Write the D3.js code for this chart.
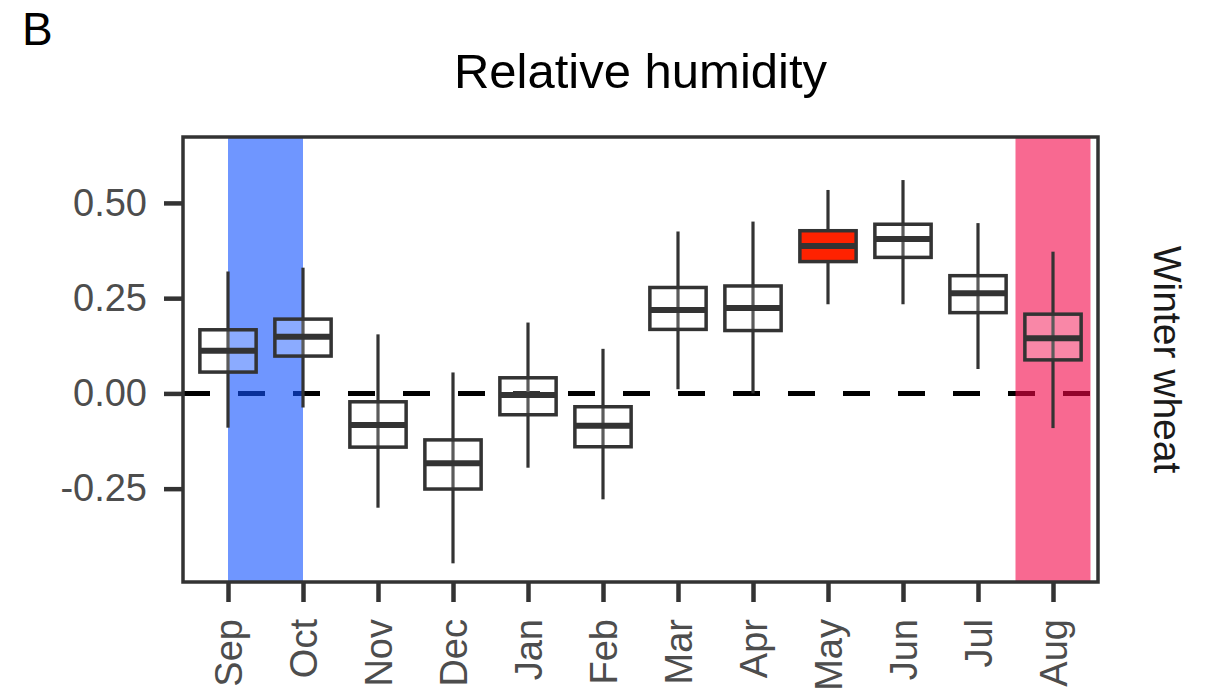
<!DOCTYPE html>
<meta charset="utf-8">
<style>
  body { margin: 0; background: #fff; }
  text { font-family: "Liberation Sans", Arial, sans-serif; }
</style>
<svg width="1205" height="694"></svg>
<script src="https://cdnjs.cloudflare.com/ajax/libs/d3/7.8.5/d3.min.js"></script>
<script>

// month order (Sep .. Aug)
var months = ["Sep", "Oct", "Nov", "Dec", "Jan", "Feb", "Mar", "Apr", "May", "Jun", "Jul", "Aug"];

// box stats
var whiskLow = [-0.090, -0.037, -0.300, -0.446, -0.195, -0.278, 0.011, 0.000, 0.234, 0.234, 0.064, -0.091];
var q1       = [ 0.056,  0.098, -0.141, -0.251, -0.056, -0.140, 0.168, 0.165, 0.346, 0.357, 0.212,  0.088];
var median   = [ 0.112,  0.149, -0.083, -0.183, -0.004, -0.085, 0.219, 0.224, 0.387, 0.405, 0.263,  0.145];
var q3       = [ 0.167,  0.195, -0.022, -0.122,  0.041, -0.035, 0.278, 0.282, 0.427, 0.444, 0.309,  0.208];
var whiskHigh= [ 0.320,  0.330,  0.155,  0.055,  0.186,  0.117, 0.425, 0.451, 0.534, 0.560, 0.447,  0.372];

var highlight = ["May"];        // red box
var yTicks = [-0.25, 0, 0.25, 0.5];
var yTickLabels = ["-0.25", "0.00", "0.25", "0.50"];

// shaded windows, in month index units
var bands = [
  { from: 0,    to: 1,    color: "rgb(15,80,255)" },
  { from: 10.5, to: 11.5, color: "rgb(243,5,72)" }
];

var svg = d3.select("svg");

var pLeft = 183, pRight = 1098, pTop = 137, pBottom = 582;

var x = d3.scalePoint().domain(months).range([pLeft, pRight]).padding(0.6);
var step = x.step();
var xi = d3.scaleLinear().domain([0, 11]).range([x("Sep"), x("Aug")]);

var y = d3.scaleLinear().domain([-0.495, 0.673]).range([pBottom, pTop]);

var data = months.map(function (m, i) {
  return { month: m, lo: whiskLow[i], q1: q1[i], med: median[i], q3: q3[i], hi: whiskHigh[i] };
});

// label + title
svg.append("text").attr("x", 22).attr("y", 45)
  .attr("font-size", 46).attr("fill", "#000").text("B");

svg.append("text").attr("x", (pLeft + pRight) / 2).attr("y", 88)
  .attr("text-anchor", "middle").attr("font-size", 49).attr("fill", "#000")
  .text("Relative humidity");

// zero line
svg.append("line")
  .attr("x1", pLeft).attr("x2", pRight)
  .attr("y1", y(0)).attr("y2", y(0))
  .attr("stroke", "#000").attr("stroke-width", 5)
  .attr("stroke-dasharray", "27,28");

// shaded bands
svg.selectAll(".band").data(bands).enter().append("rect")
  .attr("x", function (d) { return xi(d.from); })
  .attr("width", function (d) { return xi(d.to) - xi(d.from); })
  .attr("y", pTop).attr("height", pBottom - pTop)
  .attr("fill", function (d) { return d.color; })
  .attr("fill-opacity", 0.6);

// boxplots
var bw = step * 0.75;
var g = svg.selectAll(".box").data(data).enter().append("g");

g.append("line")
  .attr("x1", function (d) { return x(d.month); })
  .attr("x2", function (d) { return x(d.month); })
  .attr("y1", function (d) { return y(d.hi); })
  .attr("y2", function (d) { return y(d.lo); })
  .attr("stroke", "#333").attr("stroke-width", 3.2);

g.append("rect")
  .attr("x", function (d) { return x(d.month) - bw / 2; })
  .attr("width", bw)
  .attr("y", function (d) { return y(d.q3); })
  .attr("height", function (d) { return y(d.q1) - y(d.q3); })
  .attr("fill", function (d) { return highlight.indexOf(d.month) >= 0 ? "#ff2200" : "#fff"; })
  .attr("fill-opacity", function (d) { return highlight.indexOf(d.month) >= 0 ? 1 : 0.2; })
  .attr("stroke", "#333").attr("stroke-width", 3.5);

g.append("line")
  .attr("x1", function (d) { return x(d.month) - bw / 2; })
  .attr("x2", function (d) { return x(d.month) + bw / 2; })
  .attr("y1", function (d) { return y(d.med); })
  .attr("y2", function (d) { return y(d.med); })
  .attr("stroke", "#333").attr("stroke-width", 6);

// panel border
svg.append("rect")
  .attr("x", pLeft).attr("y", pTop)
  .attr("width", pRight - pLeft).attr("height", pBottom - pTop)
  .attr("fill", "none").attr("stroke", "#333").attr("stroke-width", 3.5);

// axes
var yAxis = svg.append("g").attr("transform", "translate(" + pLeft + ",0)")
  .call(d3.axisLeft(y).tickValues(yTicks).tickSize(19).tickPadding(17)
    .tickFormat(function (d, i) { return yTickLabels[i]; }));
yAxis.select(".domain").remove();
yAxis.selectAll(".tick line").attr("stroke", "#333").attr("stroke-width", 4.5);
yAxis.selectAll(".tick text").attr("font-size", 38).attr("fill", "#4d4d4d")
  .attr("font-family", "Liberation Sans, Arial, sans-serif");

var xAxis = svg.append("g").attr("transform", "translate(0," + pBottom + ")")
  .call(d3.axisBottom(x).tickSize(20).tickPadding(0));
xAxis.select(".domain").remove();
xAxis.selectAll(".tick line").attr("stroke", "#333").attr("stroke-width", 4.5);
xAxis.selectAll(".tick text")
  .attr("font-size", 38).attr("fill", "#4d4d4d")
  .attr("font-family", "Liberation Sans, Arial, sans-serif")
  .attr("text-anchor", "end")
  .attr("transform", "translate(0,37) rotate(-90)")
  .attr("x", 0).attr("y", 0).attr("dy", "0.35em");

// strip label
svg.append("text")
  .attr("transform", "translate(1154," + ((pTop + pBottom) / 2) + ") rotate(90)")
  .attr("text-anchor", "middle").attr("font-size", 39).attr("fill", "#1a1a1a")
  .text("Winter wheat");

</script>
